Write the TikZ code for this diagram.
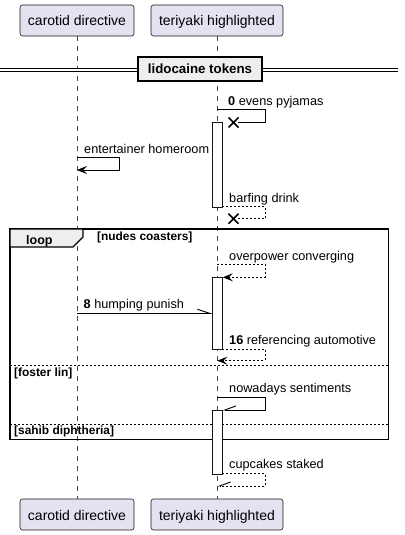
\documentclass[tikz,border=0pt]{standalone}
\usepackage{fontspec}
\setmainfont{Liberation Sans}
\usetikzlibrary{arrows.meta}
\definecolor{partfill}{HTML}{E2E2F0}
\definecolor{partline}{HTML}{181818}
\definecolor{grayfill}{HTML}{EEEEEE}
\begin{document}
\begin{tikzpicture}[x=1pt,y=-1pt,
  part/.style={draw=partline, fill=partfill, rounded corners=2.5pt, line width=0.6pt,
    minimum height=31pt, inner sep=0pt, text height=13pt, text depth=2pt,
    font=\fontsize{14}{16}\selectfont},
  lifeline/.style={draw=partline!80, line width=0.6pt, dash pattern=on 5pt off 5pt},
  act/.style={draw=partline, fill=white, line width=0.8pt, minimum width=10pt, inner sep=0pt},
  msg/.style={draw=black, line width=0.9pt},
  dmsg/.style={msg, dash pattern=on 2pt off 2pt},
  lbl/.style={anchor=base west, inner sep=0pt, font=\fontsize{12.7}{15}\selectfont},
  guard/.style={anchor=base west, inner sep=0pt, font=\fontsize{11.9}{14}\selectfont\bfseries},
  frameline/.style={draw=black, line width=1.5pt},
  sepline/.style={draw=black, line width=0.8pt, dash pattern=on 2pt off 2pt},
  fullarrow/.style={-{Stealth[length=10pt,width=8pt,inset=4pt]}},
  halfarrow/.style={-{Straight Barb[harpoon,length=12pt,width=8pt]}},
  halfarrowsw/.style={-{Straight Barb[harpoon,swap,length=11pt,width=8pt]}},
  xmark/.style={draw=black, line width=1.6pt},
]
\useasboundingbox (0,0) rectangle (404,535);

% participants
\node[part, minimum width=114pt] (cdt) at (77,20.5) {carotid directive};
\node[part, minimum width=132pt] (tht) at (217,20.5) {teriyaki highlighted};
\node[part, minimum width=114pt] (cdb) at (77,514.5) {carotid directive};
\node[part, minimum width=132pt] (thb) at (217,514.5) {teriyaki highlighted};

% lifelines
\draw[lifeline] (cdt.south) -- (cdb.north);
\draw[lifeline] (tht.south) -- (thb.north);

% divider
\coordinate (dl) at (0,70);
\coordinate (dr) at (398,70);
\draw[double, double distance=2.4pt, line width=1pt] (dl) -- (dr);
\node[draw=black, fill=grayfill, line width=1.6pt, minimum width=124pt, minimum height=24pt,
  inner sep=0pt, text height=9.5pt, text depth=0.5pt, font=\fontsize{13.3}{15}\selectfont\bfseries]
  (div) at (200,69) {lidocaine tokens};

% loop frame
\coordinate (lf1) at (10,229);
\coordinate (lf2) at (388.7,439.3);
\draw[frameline] (lf1) rectangle (lf2);
\coordinate (tab1) at (10,247);
\draw[line width=1.2pt, fill=grayfill] (lf1) -- (83,229) -- (83,237) -- (73,247) -- (tab1) -- cycle;
\node[anchor=base west, inner sep=0pt, font=\fontsize{12.5}{15}\selectfont\bfseries] (looplbl) at (26,244) {loop};
\node[guard] (g1) at (97,240) {[nudes coasters]};
\coordinate (s1a) at (10,365);
\coordinate (s1b) at (388.7,365);
\draw[sepline] (s1a) -- (s1b);
\node[guard] (g2) at (14,376.5) {[foster lin]};
\coordinate (s2a) at (10,424);
\coordinate (s2b) at (388.7,424);
\draw[sepline] (s2a) -- (s2b);
\node[guard] (g3) at (14,434) {[sahib diphtheria]};

% activations
\node[act, minimum height=85pt] (a1) at (217.3,164.8) {};
\node[act, minimum height=71.7pt] (a2) at (217.3,313.15) {};
\node[act, minimum height=64pt] (a3) at (217.3,442) {};

% message 0
\coordinate (m0a) at (217,109.5);
\coordinate (m0e) at (238,122.5);
\coordinate (m0x) at (233.5,122.5);
\draw[msg] (m0a) -- ++(48,0) |- (m0e);
\draw[xmark] (m0x) +(-5,-5) -- +(5,5) (m0x) +(-5,5) -- +(5,-5);
\node[lbl] (t0) at (228,105) {\textbf{0} evens pyjamas};

% entertainer homeroom
\coordinate (m1a) at (77,157.3);
\coordinate (m1e) at (77,170);
\draw[msg, fullarrow] (m1a) -- ++(42,0) |- (m1e);
\node[lbl] (t1) at (84,153) {entertainer homeroom};

% barfing drink
\coordinate (m2a) at (222.3,206.7);
\coordinate (m2e) at (238,218.7);
\coordinate (m2x) at (233.5,218.7);
\draw[dmsg] (m2a) -- ++(42.7,0) |- (m2e);
\draw[xmark] (m2x) +(-5,-5) -- +(5,5) (m2x) +(-5,5) -- +(5,-5);
\node[lbl] (t2) at (229,202) {barfing drink};

% overpower converging
\coordinate (m3a) at (217,264.3);
\coordinate (m3e) at (222.8,277.3);
\draw[dmsg, fullarrow] (m3a) -- ++(48,0) |- (m3e);
\node[lbl] (t3) at (229,260) {overpower converging};

% humping punish
\coordinate (m4a) at (77,313.3);
\coordinate (m4e) at (212.3,313.3);
\draw[msg, halfarrow] (m4a) -- (m4e);
\node[lbl] (t4) at (83.5,308.3) {\textbf{8} humping punish};

% referencing automotive
\coordinate (m5a) at (222.3,349);
\coordinate (m5e) at (217.3,360.7);
\draw[dmsg, fullarrow] (m5a) -- ++(42.7,0) |- (m5e);
\node[lbl] (t5) at (229,344) {\textbf{16} referencing automotive};

% nowadays sentiments
\coordinate (m6a) at (217,397.7);
\coordinate (m6e) at (222.3,410);
\draw[msg, halfarrowsw] (m6a) -- ++(48,0) |- (m6e);
\node[lbl] (t6) at (229,392.7) {nowadays sentiments};

% cupcakes staked
\coordinate (m7a) at (222.3,473.3);
\coordinate (m7e) at (217,486);
\draw[dmsg, halfarrowsw] (m7a) -- ++(42.7,0) |- (m7e);
\node[lbl] (t7) at (229,468.3) {cupcakes staked};
\end{tikzpicture}
\end{document}
